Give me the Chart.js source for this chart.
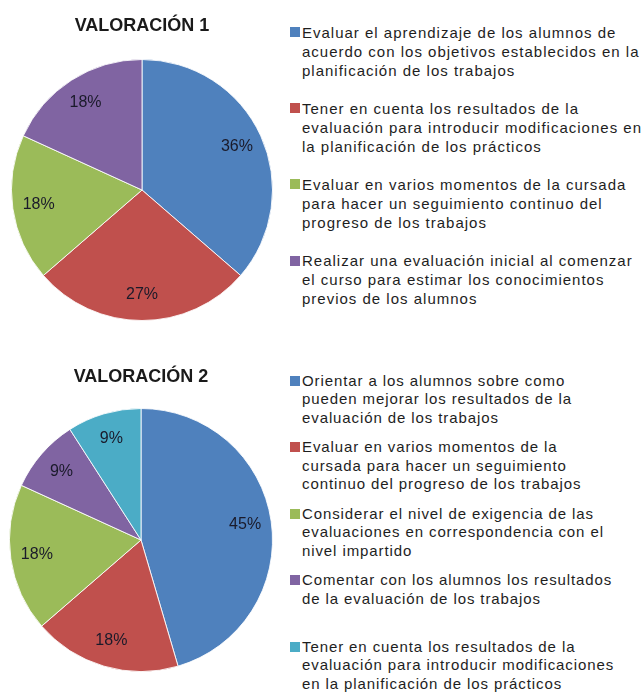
<!DOCTYPE html>
<html>
<head>
<meta charset="utf-8">
<script src="https://cdn.jsdelivr.net/npm/chart.js@4.4.0/dist/chart.umd.min.js"></script>
<style>
  html,body{margin:0;padding:0;background:#fff;}
  body{width:643px;height:693px;position:relative;overflow:hidden;font-family:"Liberation Sans",Arial,sans-serif;color:#1e1e1e;}
  .wrap{position:absolute;}
  .leg{position:absolute;left:290px;font-size:15px;letter-spacing:1px;white-space:nowrap;}
  .item{position:absolute;left:0;padding-left:12px;}
  .item i{position:absolute;left:0;width:10px;height:10px;}
</style>
</head>
<body>
<div class="wrap" style="left:0;top:0;width:284px;height:330px;"><canvas id="pie1"></canvas></div>
<div class="leg" id="leg1"></div>
<div class="wrap" style="left:0;top:350px;width:282px;height:322px;"><canvas id="pie2"></canvas></div>
<div class="leg" id="leg2"></div>
<script>
const colors1 = ["#4F81BD","#C0504D","#9BBB59","#8064A2"];
const values1 = [36, 27, 18, 18];
const labels1 = [
  ["Evaluar el aprendizaje de los alumnos de","acuerdo con los objetivos establecidos en la","planificación de los trabajos"],
  ["Tener en cuenta los resultados de la","evaluación para introducir modificaciones en","la planificación de los prácticos"],
  ["Evaluar en varios momentos de la cursada","para hacer un seguimiento continuo del","progreso de los trabajos"],
  ["Realizar una evaluación inicial al comenzar","el curso para estimar los conocimientos","previos de los alumnos"]
];

const colors2 = ["#4F81BD","#C0504D","#9BBB59","#8064A2","#4BACC6"];
const values2 = [45, 18, 18, 9, 9];
const labels2 = [
  ["Orientar a los alumnos sobre como","pueden mejorar los resultados de la","evaluación de los trabajos"],
  ["Evaluar en varios momentos de la","cursada para hacer un seguimiento","continuo del progreso de los trabajos"],
  ["Considerar el nivel de exigencia de las","evaluaciones en correspondencia con el","nivel impartido"],
  ["Comentar con los alumnos los resultados","de la evaluación de los  trabajos"],
  ["Tener en cuenta los resultados de la","evaluación para introducir modificaciones","en la planificación de los prácticos"]
];

const pctLabels = {
  id:"pctLabels",
  afterDatasetsDraw(chart){
    const ctx=chart.ctx; const meta=chart.getDatasetMeta(0); const data=chart.data.datasets[0].data;
    ctx.save(); ctx.font='16px "Liberation Sans", Arial, sans-serif'; ctx.fillStyle="#1a1a2a"; ctx.textAlign="center"; ctx.textBaseline="middle";
    meta.data.forEach((arc,i)=>{
      const p=arc.getProps(["x","y","startAngle","endAngle","outerRadius"],true);
      const mid=(p.startAngle+p.endAngle)/2, r=p.outerRadius*0.8;
      ctx.fillText(data[i]+"%", p.x+Math.cos(mid)*r, p.y+Math.sin(mid)*r);
    });
    ctx.restore();
  }
};

function makePie(id, labels, values, colors, title, pad){
  return new Chart(document.getElementById(id), {
    type:"pie",
    data:{labels:labels.map(l=>l.join(" ")), datasets:[{data:values, backgroundColor:colors, borderColor:"rgba(255,255,255,0.85)", borderWidth:1}]},
    options:{responsive:true, maintainAspectRatio:false, animation:false,
      layout:{padding:{bottom:pad.bottom}},
      plugins:{legend:{display:false}, tooltip:{enabled:false},
        title:{display:true, text:title, color:"#1a1a1a", font:{family:'"Liberation Sans", Arial, sans-serif', size:18, weight:"bold"}, padding:{top:pad.top, bottom:pad.tb}}}},
    plugins:[pctLabels]
  });
}

function makeLegend(id, labels, colors, tops, lh, ls){
  const el=document.getElementById(id);
  el.style.letterSpacing=ls+"px";
  el.innerHTML = labels.map((l,i)=>`<div class="item" style="top:${tops[i]}px;line-height:${lh}px"><i style="background:${colors[i]};top:${(lh-10)/2}px"></i>${l.join("<br>")}</div>`).join("");
}

makePie("pie1", labels1, values1, colors1, "VALORACIÓN 1", {top:15, tb:22.4, bottom:9});
makePie("pie2", labels2, values2, colors2, "VALORACIÓN 2", {top:16, tb:20.4, bottom:0});
makeLegend("leg1", labels1, colors1, [22.5, 98.5, 174.5, 251], 19.1, 1);
makeLegend("leg2", labels2, colors2, [371.5, 438, 504.5, 571, 637.5], 18.5, 0.9);
</script>
</body>
</html>
